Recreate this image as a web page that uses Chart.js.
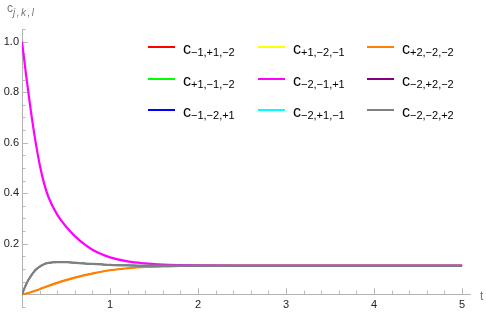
<!DOCTYPE html>
<html>
<head>
<meta charset="utf-8">
<script src="https://cdn.jsdelivr.net/npm/chart.js@4.4.1/dist/chart.umd.min.js"></script>
<style>
body { margin: 0; background: #fff; }
#wrap { position: relative; width: 486px; height: 317px; font-family: "Liberation Sans", Arial, sans-serif; }
#wrap canvas { position: absolute; left: 0; top: 0; }
.lab { position: absolute; color: #777; white-space: nowrap; line-height: 1; }
.item { position: absolute; width: 110px; height: 20px; }
.item .ln { position: absolute; left: 0; top: 9px; width: 27px; height: 2px; }
.item .tx { position: absolute; left: 35px; top: 4px; font-size: 16px; line-height: 1; color: #000; white-space: nowrap; }
.item .tx sub { font-size: 11px; vertical-align: -2px; }
</style>
</head>
<body>
<div id="wrap">
    <canvas id="chart"></canvas>
    <div class="lab" style="left:7px; top:2px; font-size:12px;">c<sub style="font-size:10px; font-style:italic; vertical-align:-4px; letter-spacing:1.5px;">j,k,l</sub></div>
    <div class="lab" style="left:480px; top:290px; font-size:12px;">t</div>
    <div id="legend"></div>
</div>
<script>
// zaman noktaları
const tVals = [0, 0.05, 0.1, 0.15, 0.2, 0.25, 0.3, 0.4, 0.5, 0.6, 0.7, 0.8, 0.9, 1.0,
               1.2, 1.4, 1.6, 1.8, 2.0, 2.5, 3, 3.5, 4, 4.5, 5];

// grafikten okunan eğriler
const decayVals = [1.0, 0.858, 0.727, 0.612, 0.515, 0.44, 0.385, 0.315, 0.268, 0.23, 0.2, 0.176, 0.159, 0.146,
                   0.13, 0.122, 0.117, 0.115, 0.114, 0.113, 0.113, 0.113, 0.113, 0.113, 0.113];
const riseVals = [0, 0.042, 0.072, 0.095, 0.109, 0.119, 0.124, 0.127, 0.127, 0.125, 0.122, 0.120, 0.118, 0.116,
                  0.114, 0.113, 0.113, 0.113, 0.113, 0.113, 0.113, 0.113, 0.113, 0.113, 0.113];
const sVals = [0, 0.003, 0.008, 0.014, 0.02, 0.027, 0.033, 0.045, 0.056, 0.066, 0.075, 0.082, 0.089, 0.095,
               0.103, 0.108, 0.110, 0.112, 0.113, 0.113, 0.113, 0.113, 0.113, 0.113, 0.113];

// seri isimleri (alt indisler) ve renkler
const seriesSubs = ['−1,+1,−2', '+1,−2,−1', '+2,−2,−2',
                    '+1,−1,−2', '−2,−1,+1', '−2,+2,−2',
                    '−1,−2,+1', '−2,+1,−1', '−2,−2,+2'];
const seriesColors = ['#ff0000', '#ffff00', '#ff8000',
                      '#00ff00', '#ff00ff', '#800080',
                      '#0000ff', '#00ffff', '#808080'];
const seriesData = [sVals, sVals, sVals,
                    riseVals, decayVals, riseVals,
                    riseVals, riseVals, riseVals];
// üstte görünen seriler (diğerleri altta kalıyor)
const visibleIdx = [2, 4, 8];

const xTicks = [1, 2, 3, 4, 5];
const yTicks = [0.2, 0.4, 0.6, 0.8, 1.0];

// Legend (3x3)
const legend = document.getElementById('legend');
const colX = [148, 258, 367];
const rowY = [47, 79, 110];
seriesSubs.forEach((sub, i) => {
    const div = document.createElement('div');
    div.className = 'item';
    div.style.left = colX[i % 3] + 'px';
    div.style.top = (rowY[Math.floor(i / 3)] - 10) + 'px';
    div.innerHTML = `<div class="ln" style="background:${seriesColors[i]}"></div>
        <div class="tx">c<sub>${sub}</sub></div>`;
    legend.appendChild(div);
});

// Mathematica tarzı içe bakan tik çizgileri
const innerTicks = {
    id: 'innerTicks',
    beforeDatasetsDraw(chart) {
        const {ctx, scales: {x, y}} = chart;
        const x0 = x.getPixelForValue(0);
        const y0 = y.getPixelForValue(0);
        ctx.save();
        ctx.strokeStyle = '#b8b8b8';
        ctx.lineWidth = 1;
        ctx.beginPath();
        for (let k = 1; k <= 25; k++) {
            const px = Math.round(x.getPixelForValue(k * 0.2)) + 0.5;
            const len = k % 5 === 0 ? 6 : 3.5;
            ctx.moveTo(px, y0);
            ctx.lineTo(px, y0 - len);
        }
        for (let k = -1; k <= 21; k++) {
            if (k === 0) continue;
            const py = Math.round(y.getPixelForValue(k * 0.05)) + 0.5;
            const len = k % 4 === 0 ? 6 : 3.5;
            ctx.moveTo(x0, py);
            ctx.lineTo(x0 + len, py);
        }
        ctx.stroke();
        ctx.restore();
    }
};

const ctx = document.getElementById('chart').getContext('2d');
new Chart(ctx, {
    type: 'line',
    data: {
        datasets: seriesData.map((vals, i) => ({
            label: 'c' + seriesSubs[i],
            data: tVals.map((t, j) => ({x: t, y: vals[j]})),
            borderColor: seriesColors[i],
            borderWidth: visibleIdx.includes(i) ? 2.2 : 1.2,
            pointRadius: 0,
            cubicInterpolationMode: 'monotone',
            fill: false,
            order: 8 - i
        }))
    },
    options: {
        responsive: true,
        maintainAspectRatio: false,
        animation: false,
        layout: { padding: { top: 29, right: 16, bottom: 7, left: 0 } },
        plugins: { legend: { display: false }, tooltip: { enabled: false } },
        scales: {
            x: {
                type: 'linear',
                position: { y: 0 },
                min: 0,
                max: 5.09,
                grid: { display: false, drawTicks: false },
                border: { display: true, color: '#b3b3b3', width: 1 },
                ticks: {
                    stepSize: 1,
                    includeBounds: false,
                    padding: 4,
                    color: '#222',
                    font: { family: 'Liberation Sans', size: 11 },
                    maxRotation: 0,
                    callback: v => xTicks.includes(v) ? String(v) : null
                }
            },
            y: {
                type: 'linear',
                min: -0.052,
                max: 1.05,
                grid: { display: false, drawTicks: false },
                border: { display: true, color: '#b3b3b3', width: 1 },
                afterFit: s => { s.width = 22; },
                ticks: {
                    stepSize: 0.2,
                    includeBounds: false,
                    padding: 3,
                    color: '#222',
                    font: { family: 'Liberation Sans', size: 11 },
                    callback: v => yTicks.some(t => Math.abs(t - v) < 1e-6) ? v.toFixed(1) : null
                }
            }
        }
    },
    plugins: [innerTicks]
});
</script>
</body>
</html>
